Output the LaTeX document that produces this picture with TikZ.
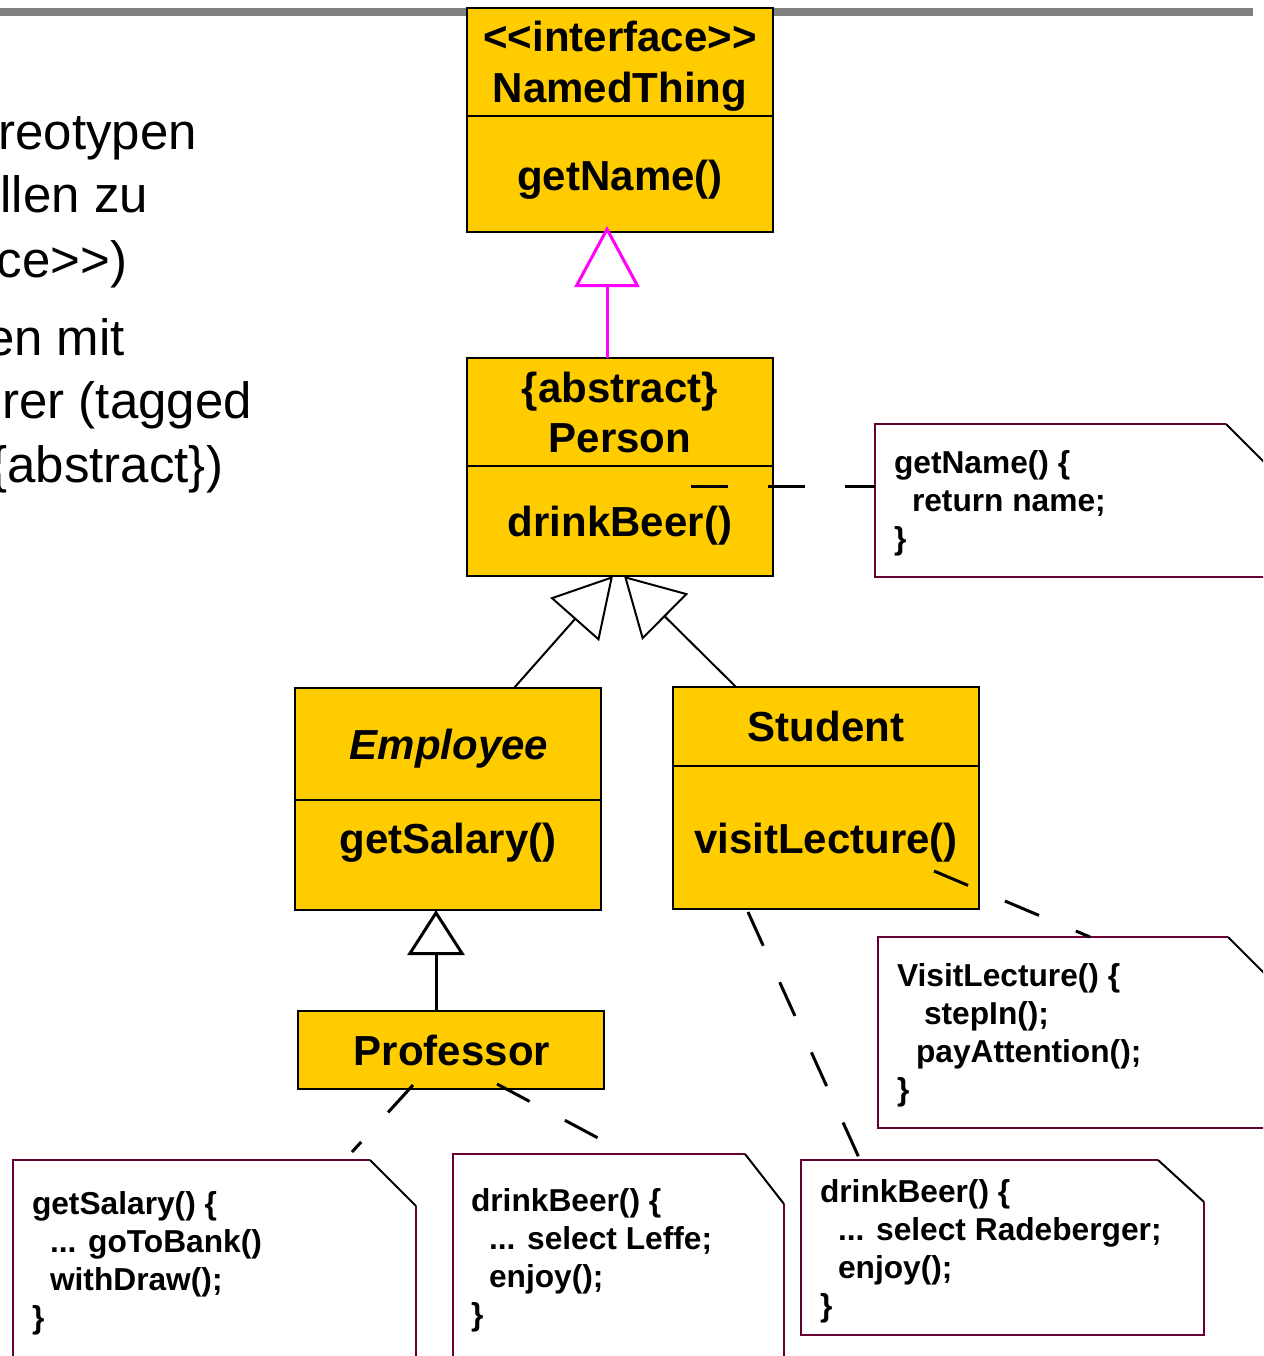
\documentclass[tikz,border=0pt]{standalone}
\usepackage{fontspec}
\newfontfamily\umlfont{Liberation Sans}
\usetikzlibrary{arrows.meta,calc}

\definecolor{classfill}{RGB}{255,204,0}
\definecolor{noteframe}{RGB}{102,0,51}
\definecolor{rulegray}{RGB}{128,128,128}
\definecolor{realize}{RGB}{255,0,255}

\tikzset{
  every node/.style={inner sep=0pt, outer sep=0pt},
  classbox/.style={draw=black, line width=2.5pt, fill=classfill, minimum width=306pt},
  compline/.style={line width=2.5pt},
  umltext/.style={font=\umlfont\bfseries\fontsize{42}{50}\selectfont, anchor=base},
  slidetext/.style={font=\umlfont\fontsize{51}{61}\selectfont, anchor=base east},
  codeline/.style={font=\umlfont\bfseries\fontsize{31.7}{38}\selectfont, anchor=base west},
  noteedge/.style={draw=noteframe, line width=2.5pt},
  foldedge/.style={draw=black, line width=2pt},
  generalize/.style={draw=black, line width=2pt, -{Triangle[open, length=58pt, width=65pt]}},
  realization/.style={draw=realize, line width=3pt, -{Triangle[open, length=61pt, width=65pt]}},
  notelink/.style={draw=black, line width=3pt, dash pattern=on 37pt off 40pt},
}

% outline of a UML note with a cut top-right corner: node, x cut, y cut
\newcommand{\notefold}[3]{%
  \draw[noteedge] ([yshift=-#3pt]#1.north east) -- (#1.south east) -- (#1.south west)
    -- (#1.north west) -- ([xshift=-#2pt]#1.north east);
  \draw[foldedge] ([xshift=-#2pt]#1.north east) -- ([yshift=-#3pt]#1.north east);
}

\begin{document}
\begin{tikzpicture}[x=1pt, y=-1pt]
\useasboundingbox (0,0) rectangle (1263,1356);
\clip (0,0) rectangle (1263,1356);

% slide header rule
\fill[rulegray] (0,8) rectangle (1253,16);

% slide text on the left
\node[slidetext] (s1) at (197,150) {reotypen};
\node[slidetext] (s2) at (148,213) {llen zu};
\node[slidetext] (s3) at (127,277) {ce>>)};
\node[slidetext] (s4) at (125,355) {en mit};
\node[slidetext] (s5) at (252,418) {rer (tagged};
\node[slidetext] (s6) at (223,482) {\{abstract\})};

% classes
\node[classbox, minimum height=224pt] (named) at (620,120) {};
\draw[compline] ([yshift=4pt]named.west) -- ([yshift=4pt]named.east);
\node[umltext] (namedStereo) at (620,52) {<<interface>>};
\node[umltext] (namedName) at (620,103) {NamedThing};
\node[umltext] (namedOp) at (620,191) {getName()};

\node[classbox, minimum height=218pt] (person) at (620,467) {};
\draw[compline] ([yshift=1pt]person.west) -- ([yshift=1pt]person.east);
\node[umltext] (personTag) at (620,402) {\{abstract\}};
\node[umltext] (personName) at (620,452) {Person};
\node[umltext] (personOp) at (620,536) {drinkBeer()};

\node[classbox, minimum height=222pt] (emp) at (448,799) {};
\draw[compline] ([yshift=-1pt]emp.west) -- ([yshift=-1pt]emp.east);
\node[umltext, font=\umlfont\bfseries\itshape\fontsize{42}{50}\selectfont] (empName) at (449,759) {Employee};
\node[umltext] (empOp) at (448,853) {getSalary()};

\node[classbox, minimum height=222pt] (stu) at (826,798) {};
\draw[compline] ([yshift=32pt]stu.west) -- ([yshift=32pt]stu.east);
\node[umltext] (stuName) at (826,741) {Student};
\node[umltext] (stuOp) at (826,853) {visitLecture()};

\node[classbox, minimum height=78pt] (prof) at (451,1050) {};
\node[umltext] (profName) at (452,1065) {Professor};

% realization and generalizations
\draw[realization] ([xshift=-13pt]person.north) -- ([xshift=-13pt, yshift=6pt]named.south);
\draw[generalize] ([xshift=66pt]emp.north) -- ([xshift=-7pt]person.south);
\draw[generalize] ([xshift=-90pt]stu.north) -- ([xshift=4pt]person.south);
\draw[generalize, line width=3pt, -{Triangle[open, length=45pt, width=57pt]}]
  ([xshift=-15pt]prof.north) -- ([xshift=-12pt]emp.south);

% notes
\node[minimum width=397pt, minimum height=153pt] (n1) at (1073.5,500.5) {};
\notefold{n1}{46}{46}
\node[codeline] (n1a) at (894,473) {getName() \{};
\node[codeline] (n1b) at (912,511) {return name;};
\node[codeline] (n1c) at (894,549) {\}};

\node[minimum width=396pt, minimum height=191pt] (n2) at (1076,1032.5) {};
\notefold{n2}{46}{46}
\node[codeline] (n2a) at (897,986) {VisitLecture() \{};
\node[codeline] (n2b) at (924,1024) {stepIn();};
\node[codeline] (n2c) at (916,1062) {payAttention();};
\node[codeline] (n2d) at (897,1100) {\}};

\node[minimum width=403pt, minimum height=240pt] (n3) at (214.5,1280) {};
\notefold{n3}{46}{46}
\node[codeline] (n3a) at (32,1214) {getSalary() \{};
\node[codeline] (n3b) at (50,1252) {... goToBank()};
\node[codeline] (n3c) at (50,1290) {withDraw();};
\node[codeline] (n3d) at (32,1328) {\}};

\node[minimum width=331pt, minimum height=246pt] (n4) at (618.5,1277) {};
\notefold{n4}{39}{50}
\node[codeline] (n4a) at (471,1211) {drinkBeer() \{};
\node[codeline] (n4b) at (489,1249) {... select Leffe;};
\node[codeline] (n4c) at (489,1287) {enjoy();};
\node[codeline] (n4d) at (471,1325) {\}};

\node[minimum width=403pt, minimum height=175pt] (n5) at (1002.5,1247.5) {};
\notefold{n5}{46}{42}
\node[codeline] (n5a) at (820,1202) {drinkBeer() \{};
\node[codeline] (n5b) at (838,1240) {... select Radeberger;};
\node[codeline] (n5c) at (838,1278) {enjoy();};
\node[codeline] (n5d) at (820,1316) {\}};

% note attachments
\coordinate (pbeer) at ($(person.center)+(71,19)$);
\draw[notelink] (pbeer) -- (pbeer -| n1.west);
\coordinate (slect) at ($(stu.center)+(108,73)$);
\draw[notelink] (slect) -- ($(n2.north west)+(212,0)$);
\coordinate (sbeer) at ($(stu.south)+(-78,3)$);
\draw[notelink] (sbeer) -- ($(n5.north west)+(59,0)$);
\coordinate (psal) at ($(prof.center)+(-38,35)$);
\draw[notelink] (psal) -- ($(n3.north west)+(339,-8)$);
\coordinate (pbeer2) at ($(prof.center)+(46,34)$);
\draw[notelink] (pbeer2) -- ($(n4.north west)+(175,0)$);
\end{tikzpicture}
\end{document}
